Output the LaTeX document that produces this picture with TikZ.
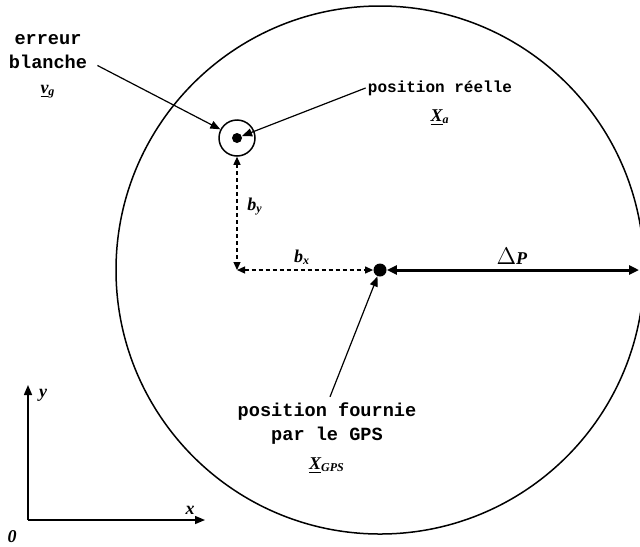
\documentclass[tikz,border=0pt]{standalone}
\usepackage{fontspec}
\setmainfont{Liberation Serif}
\newfontfamily\courierbold{Liberation Mono}
\usetikzlibrary{arrows.meta,calc,positioning}

\tikzset{
  lbl/.style={font=\courierbold\bfseries\fontsize{9.3}{12}\selectfont, align=center, inner sep=1pt},
  var/.style={font=\bfseries\itshape\fontsize{9}{10}\selectfont, inner sep=1pt},
  ptr/.style={-{Triangle[length=5pt,width=4pt]}, line width=0.6pt},
  gap/.style={{Triangle[length=4pt,width=3.5pt]}-{Triangle[length=4pt,width=3.5pt]},
    dash pattern=on 2pt off 1.5pt, line width=0.6pt},
}

\begin{document}
\begin{tikzpicture}[x=0.5pt,y=-0.5pt]
  \useasboundingbox (0,0) rectangle (640,546);
  % zone d'incertitude
  \begin{scope}
    \clip (0,0) rectangle (640,546);
    \draw[line width=0.75pt] (380,270) circle (132pt);
  \end{scope}
  % positions
  \node[circle,draw,line width=0.75pt,minimum size=18pt,inner sep=0] (real) at (237,138) {};
  \node[circle,fill,minimum size=5pt,inner sep=0] (realdot) at (237,138) {};
  \node[circle,fill,minimum size=6.5pt,inner sep=0] (gps) at (380,270) {};
  \coordinate (corner) at (237,270);
  \coordinate (edge) at (639,270);
  \draw[gap] (real) -- (corner);
  \draw[gap] (corner) -- (gps);
  \draw[line width=1.5pt,{Triangle[length=5pt,width=4.5pt]}-{Triangle[length=5pt,width=4.5pt]}] (gps) -- (edge);
  \node[var] (by) at (255,207) {b\textsubscript{y}};
  \node[var] (bx) at (302,257) {b\textsubscript{x}};
  \node[font=\fontsize{13}{14}\selectfont] (dp) at (512,256) {$\Delta$\textbf{\textit{\fontsize{9}{10}\selectfont P}}};
  % textes
  \node[lbl] (err) at (48,52) {erreur\\blanche};
  \node[var] (vg) at (48,92) {\underline{v}\textsubscript{g}};
  \draw[ptr] ([xshift=4pt,yshift=3pt]err.south east) -- (real);
  \node[lbl,font=\courierbold\bfseries\fontsize{8}{12}\selectfont] (reel) at (440,88) {position réelle};
  \node[var] (xa) at (440,118) {\underline{X}\textsubscript{a}};
  \draw[ptr] (reel.west) -- (realdot);
  \node[lbl] (fourn) at (327,424) {position fournie\\par le GPS};
  \node[var] (xgps) at (327,466) {\underline{X}\textsubscript{GPS}};
  \draw[ptr] ([xshift=1.5pt,yshift=2pt]fourn.north) -- (gps);
  % repere
  \coordinate (O) at (28,520);
  \coordinate (ytip) at (28,385);
  \coordinate (xtip) at (205,520);
  \draw[ptr,line width=0.75pt] (O) -- (ytip);
  \draw[ptr,line width=0.75pt] (O) -- (xtip);
  \node[var] (zero) at (12,537) {0};
  \node[var] (ylab) at (43,395) {y};
  \node[var] (xlab) at (190,510) {x};
\end{tikzpicture}
\end{document}
